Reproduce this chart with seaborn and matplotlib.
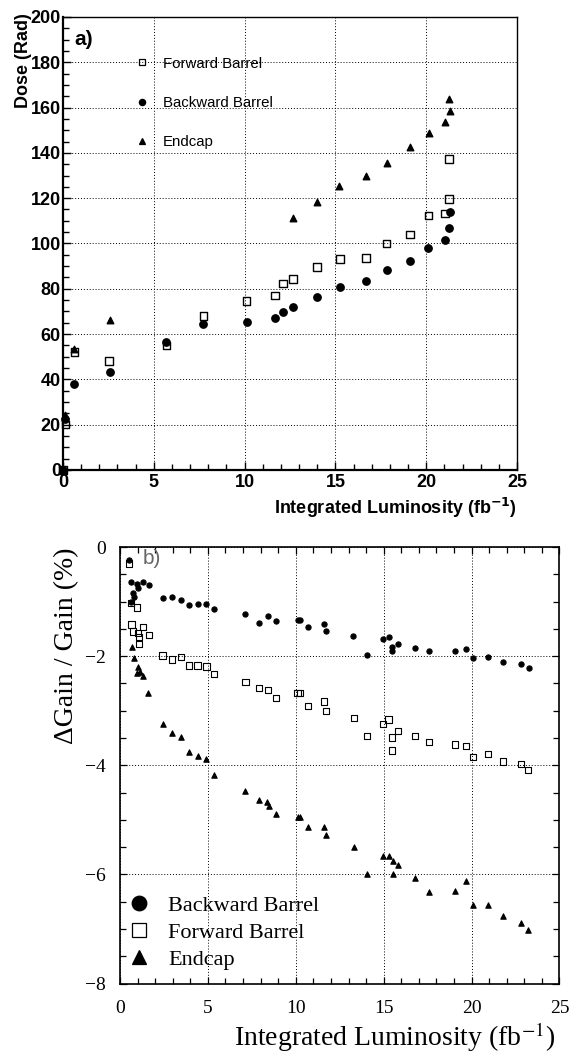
import pandas as pd
import matplotlib.pyplot as plt
import seaborn as sns
from matplotlib.lines import Line2D
from matplotlib.ticker import MultipleLocator

# ---- panel a) dose vs integrated luminosity ----
fwd_lumi = [0, 0.13, 0.64, 2.53, 5.69, 7.73, 10.11, 11.67, 12.1, 12.67, 14.0, 15.25, 16.69,
            17.82, 19.1, 20.12, 21.03, 21.27, 21.27]
fwd_dose = [0, 20, 52, 48, 55, 68, 74.5, 77, 82.3, 84.3, 89.5, 93.2, 93.5,
            100, 104, 112.4, 113.3, 119.6, 137.2]
bwd_lumi = [0, 0.13, 0.6, 2.57, 5.69, 7.73, 10.11, 11.67, 12.1, 12.67, 14.0, 15.25, 16.69,
            17.82, 19.12, 20.1, 21.02, 21.27, 21.3]
bwd_dose = [0, 22.4, 37.8, 43.4, 56.6, 64.3, 65.5, 67, 69.8, 71.8, 76.5, 80.7, 83.4,
            88.4, 92.3, 97.9, 101.7, 106.7, 113.8]
end_lumi = [0, 0.13, 0.6, 2.59, 12.68, 13.97, 15.22, 16.67, 17.82, 19.1, 20.13, 21.05, 21.3, 21.26]
end_dose = [0, 24.3, 53.3, 66.2, 111.1, 118.5, 125.5, 129.9, 135.7, 142.6, 148.9, 153.6, 158.5, 163.7]

# ---- panel b) gain change vs integrated luminosity ----
bb_lumi = [0.51, 0.62, 0.95, 1.33, 1.65, 1.04, 0.72, 0.81, 0.62, 2.42, 2.95, 3.47, 3.94, 4.41,
           4.92, 5.34, 7.14, 7.91, 8.43, 8.86, 10.1, 10.25, 10.7, 11.61, 11.74, 13.28, 14.04,
           14.97, 15.28, 15.49, 15.49, 15.81, 16.76, 17.59, 19.07, 19.66, 20.1, 20.94, 21.78,
           22.82, 23.24]
bb_gain = [-0.23, -0.64, -0.67, -0.64, -0.70, -0.76, -0.85, -0.91, -1.0, -0.94, -0.92, -0.97,
           -1.06, -1.05, -1.05, -1.14, -1.22, -1.39, -1.27, -1.36, -1.33, -1.33, -1.47, -1.41,
           -1.54, -1.63, -1.97, -1.69, -1.64, -1.83, -1.90, -1.77, -1.85, -1.90, -1.91, -1.87,
           -2.03, -2.01, -2.10, -2.15, -2.22]
fb_lumi = [0.51, 0.61, 0.95, 0.66, 1.33, 0.72, 1.04, 1.08, 1.65, 1.1, 2.42, 2.95, 3.47, 3.94,
           4.41, 4.92, 5.36, 7.14, 7.91, 8.43, 8.86, 10.1, 10.25, 10.7, 11.61, 11.74, 13.29,
           14.04, 14.98, 15.28, 15.49, 15.49, 15.8, 16.76, 17.59, 19.05, 19.67, 20.09, 20.94,
           21.78, 22.82, 23.22]
fb_gain = [-0.30, -1.02, -1.11, -1.42, -1.46, -1.55, -1.57, -1.65, -1.61, -1.78, -1.99, -2.06,
           -2.01, -2.17, -2.17, -2.19, -2.32, -2.48, -2.59, -2.62, -2.76, -2.67, -2.67, -2.91,
           -2.83, -3.01, -3.14, -3.46, -3.24, -3.16, -3.49, -3.73, -3.37, -3.46, -3.58, -3.62,
           -3.65, -3.85, -3.79, -3.93, -3.98, -4.09]
ec_lumi = [0.70, 0.8, 1.04, 0.98, 1.14, 1.33, 1.61, 2.42, 2.95, 3.47, 3.94, 4.41, 4.92, 5.36,
           7.14, 7.91, 8.37, 8.45, 8.86, 10.13, 10.23, 10.7, 11.61, 11.74, 13.3, 14.05, 14.98,
           15.28, 15.51, 15.81, 15.51, 16.76, 17.59, 19.05, 19.67, 20.09, 20.94, 21.78, 22.82,
           23.22]
ec_gain = [-1.83, -2.04, -2.2, -2.31, -2.29, -2.36, -2.67, -3.24, -3.40, -3.49, -3.76, -3.83,
           -3.88, -4.17, -4.47, -4.63, -4.68, -4.74, -4.89, -4.94, -4.94, -5.13, -5.14, -5.27,
           -5.5, -5.99, -5.67, -5.66, -5.76, -5.83, -6.0, -6.07, -6.32, -6.31, -6.13, -6.56,
           -6.56, -6.76, -6.90, -7.02]

dose = {
    'Forward Barrel': pd.DataFrame({'lumi': fwd_lumi, 'val': fwd_dose}),
    'Backward Barrel': pd.DataFrame({'lumi': bwd_lumi, 'val': bwd_dose}),
    'Endcap': pd.DataFrame({'lumi': end_lumi, 'val': end_dose}),
}
gain = {
    'Backward Barrel': pd.DataFrame({'lumi': bb_lumi, 'val': bb_gain}),
    'Forward Barrel': pd.DataFrame({'lumi': fb_lumi, 'val': fb_gain}),
    'Endcap': pd.DataFrame({'lumi': ec_lumi, 'val': ec_gain}),
}
marker = {'Forward Barrel': 's', 'Backward Barrel': 'o', 'Endcap': '^'}
face = {'Forward Barrel': 'none', 'Backward Barrel': 'black', 'Endcap': 'black'}

fig = plt.figure(figsize=(5.7, 10.53), dpi=100)
ax1 = fig.add_axes([0.1105, 0.5537, 0.7965, 0.4302])
ax2 = fig.add_axes([0.2105, 0.0660, 0.7710, 0.4145])

grid_kw = dict(color='black', linestyle=(0, (1, 2)), linewidth=0.7)

# ---------- top panel ----------
sizes_top = {'Forward Barrel': 30, 'Backward Barrel': 28, 'Endcap': 22}
for name, df in dose.items():
    sns.scatterplot(data=df, x='lumi', y='val', ax=ax1, marker=marker[name], s=sizes_top[name],
                    facecolor=face[name], edgecolor='black', linewidth=1.0, clip_on=False,
                    zorder=3)
ax1.set_xlim(0, 25)
ax1.set_ylim(0, 200)
ax1.xaxis.set_major_locator(MultipleLocator(5))
ax1.xaxis.set_minor_locator(MultipleLocator(1))
ax1.yaxis.set_major_locator(MultipleLocator(20))
ax1.yaxis.set_minor_locator(MultipleLocator(5))
ax1.tick_params(which='both', direction='in', top=False, right=False, width=1.0)
ax1.tick_params(which='major', length=6)
ax1.tick_params(which='minor', length=4)
ax1.tick_params(axis='y', pad=1.5)
ax1.tick_params(axis='x', pad=3)
for lab in ax1.get_xticklabels() + ax1.get_yticklabels():
    lab.set_fontfamily('Liberation Sans')
    lab.set_fontweight('bold')
    lab.set_fontsize(13)
ax1.grid(True, which='major', **grid_kw)
ax1.set_axisbelow(True)
for side in ['left', 'bottom']:
    ax1.spines[side].set_linewidth(1.6)
for side in ['top', 'right']:
    ax1.spines[side].set_linewidth(1.0)
ax1.set_xlabel('Integrated Luminosity (fb$^{\\mathbf{-1}}$)', fontfamily='Liberation Sans',
               fontweight='bold', fontsize=13, ha='right')
ax1.xaxis.set_label_coords(1.0, -0.057)
ax1.set_ylabel('')
fig.text(0.042, 0.9877, 'Dose (Rad)', rotation=90, ha='center', va='top',
         fontfamily='Liberation Sans', fontweight='bold', fontsize=13)
ax1.text(0.026, 0.972, 'a)', transform=ax1.transAxes, ha='left', va='top',
         fontfamily='Liberation Sans', fontweight='bold', fontsize=15)

top_handles = [Line2D([], [], linestyle='none', marker=marker[n], markersize=4.5,
                      markerfacecolor=face[n], markeredgecolor='black', markeredgewidth=0.9)
               for n in dose]
leg1 = ax1.legend(top_handles, list(dose.keys()), loc='upper left',
                  bbox_to_anchor=(0.157, 0.9125), frameon=False, borderpad=0,
                  borderaxespad=0, handlelength=1.0, handletextpad=0.9, labelspacing=1.68,
                  prop={'family': 'Liberation Sans', 'size': 10.8})

# ---------- bottom panel ----------
sizes_bot = {'Backward Barrel': 14, 'Forward Barrel': 20, 'Endcap': 15}
for name, df in gain.items():
    sns.scatterplot(data=df, x='lumi', y='val', ax=ax2, marker=marker[name], s=sizes_bot[name],
                    facecolor=face[name], edgecolor='black', linewidth=0.8, zorder=3)
ax2.set_xlim(0, 25)
ax2.set_ylim(-8, 0)
ax2.xaxis.set_major_locator(MultipleLocator(5))
ax2.xaxis.set_minor_locator(MultipleLocator(1))
ax2.yaxis.set_major_locator(MultipleLocator(2))
ax2.yaxis.set_minor_locator(MultipleLocator(0.5))
ax2.tick_params(which='both', direction='in', top=True, right=True, width=0.9)
ax2.tick_params(which='major', length=5)
ax2.tick_params(which='minor', length=4)
ax2.tick_params(axis='y', pad=10)
ax2.tick_params(axis='x', pad=12)
for lab in ax2.get_xticklabels() + ax2.get_yticklabels():
    lab.set_fontfamily('Liberation Serif')
    lab.set_fontsize(14)
ax2.grid(True, which='major', **grid_kw)
ax2.set_axisbelow(True)
for side in ax2.spines:
    ax2.spines[side].set_linewidth(1.2)
ax2.set_xlabel('Integrated Luminosity (fb$^{-1}$)', fontfamily='Liberation Serif',
               fontsize=20, ha='right', va='center', math_fontfamily='stix')
ax2.xaxis.set_label_coords(0.99, -0.124)
ax2.set_ylabel('')
fig.text(0.1175, 0.4796, '\u0394Gain / Gain (%)', rotation=90, ha='center', va='top',
         fontfamily='Liberation Serif', fontsize=20)
ax2.text(0.052, 0.995, 'b)', transform=ax2.transAxes, ha='left', va='top',
         fontfamily='Liberation Sans', fontsize=15, color='#666666')

bot_handles = [Line2D([], [], linestyle='none', marker=marker[n], markersize=10.5,
                      markerfacecolor=face[n], markeredgecolor='black', markeredgewidth=0.9)
               for n in gain]
leg2 = ax2.legend(bot_handles, list(gain.keys()), loc='upper left',
                  bbox_to_anchor=(0.018, 0.2025), frameon=False, borderpad=0,
                  borderaxespad=0, handlelength=1.0, handletextpad=0.8, labelspacing=0.3,
                  prop={'family': 'Liberation Serif', 'size': 16})

fig.savefig('out.png', dpi=100)
